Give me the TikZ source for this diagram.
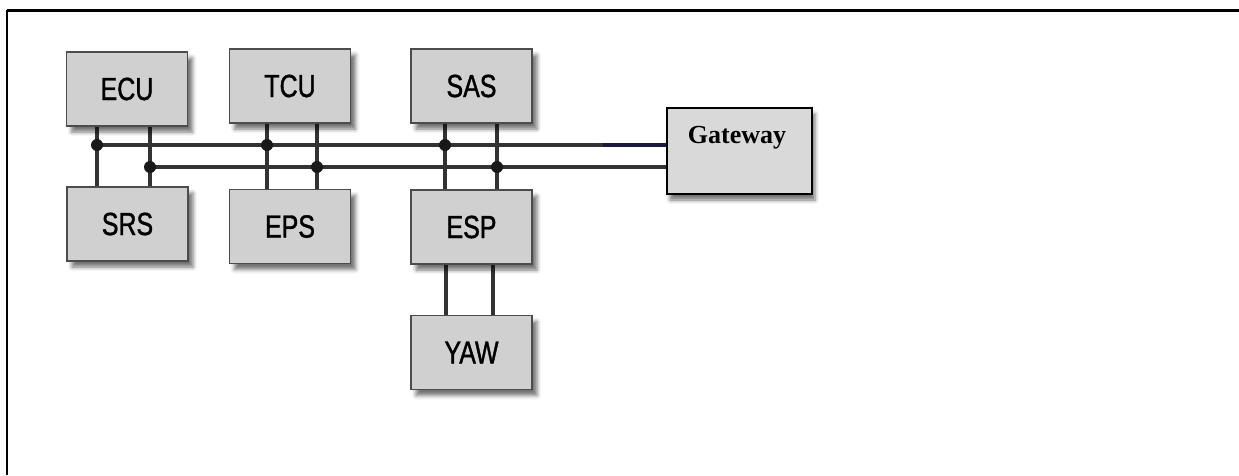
\documentclass[tikz,border=0pt]{standalone}
\usepackage{fontspec}
\usepackage{xcolor}
\usepackage{tikz}
\usetikzlibrary{positioning, calc, shadows.blur}
\newfontfamily\unitfont[FakeStretch=0.78, FakeBold=1.2]{Liberation Sans}
\newfontfamily\gwfont{Liberation Serif}
\definecolor{boxgray}{HTML}{D0D0D0}
\definecolor{gwgray}{HTML}{D9D9D9}
\definecolor{busgray}{HTML}{333333}
\definecolor{navy}{HTML}{1A1A40}

\tikzset{
  unit/.style={draw=black!70, line width=1.8pt, fill=boxgray,
    minimum width=121pt, minimum height=74pt, inner sep=0pt,
    font=\unitfont\fontsize{32}{36}\selectfont,
    blur shadow={shadow xshift=5pt, shadow yshift=-6pt, shadow blur radius=4pt, shadow opacity=55}},
  gw/.style={draw=black, line width=2pt, fill=gwgray,
    minimum width=145pt, minimum height=86pt, inner sep=0pt,
    blur shadow={shadow xshift=3pt, shadow yshift=-6pt, shadow blur radius=4pt, shadow opacity=55}},
  bus/.style={draw=busgray, line width=4.8pt},
  junction/.style={fill=black!90}
}

\begin{document}
\begin{tikzpicture}[x=1pt, y=-1pt]
  \useasboundingbox (0,0) rectangle (1239,475);
  % frame
  \draw[line width=3pt] (7,10) -- (1239,10);
  \draw[line width=2pt] (7,10) -- (7,475);

  % bus junctions
  \coordinate (jA1) at (97,145);
  \coordinate (jB1) at (150,167);
  \coordinate (jA2) at (267,145);
  \coordinate (jB2) at (317,167);
  \coordinate (jA3) at (445,145);
  \coordinate (jB3) at (497,167);

  % vertical taps (drawn first, under the boxes)
  \draw[bus] (97,120) -- (97,190);
  \draw[bus] (150,120) -- (150,190);
  \draw[bus] (267,118) -- (267,192);
  \draw[bus] (317,118) -- (317,192);
  \draw[bus] (445,118) -- (445,193);
  \draw[bus] (497,118) -- (497,193);
  \draw[bus] (446,258) -- (446,318);
  \draw[bus] (493,258) -- (493,318);

  % units
  \node[unit] (ECU) at (127,89) {ECU};
  \node[unit] (TCU) at (290,86) {TCU};
  \node[unit] (SAS) at (471.5,86) {SAS};
  \node[unit] (SRS) at (127.5,224) {SRS};
  \node[unit] (EPS) at (290,226.5) {EPS};
  \node[unit] (ESP) at (471.5,227) {ESP};
  \node[unit] (YAW) at (471.5,352.5) {YAW};
  \node[gw] (GW) at (739.5,151) {};
  \node[anchor=base, font=\gwfont\bfseries\fontsize{26}{30}\selectfont] (GWtxt) at (737,143) {Gateway};

  % CAN lines
  \draw[bus] (jA1) -- (jA1 -| GW.west);
  \draw[bus] (jB1) -- (jB1 -| GW.west);
  \coordinate (navyA) at (603,145);
  \draw[bus, draw=navy] (navyA) -- (navyA -| GW.west);

  \foreach \j in {jA1,jB1,jA2,jB2,jA3,jB3}
    \fill[junction] (\j) circle (6pt);
\end{tikzpicture}
\end{document}
